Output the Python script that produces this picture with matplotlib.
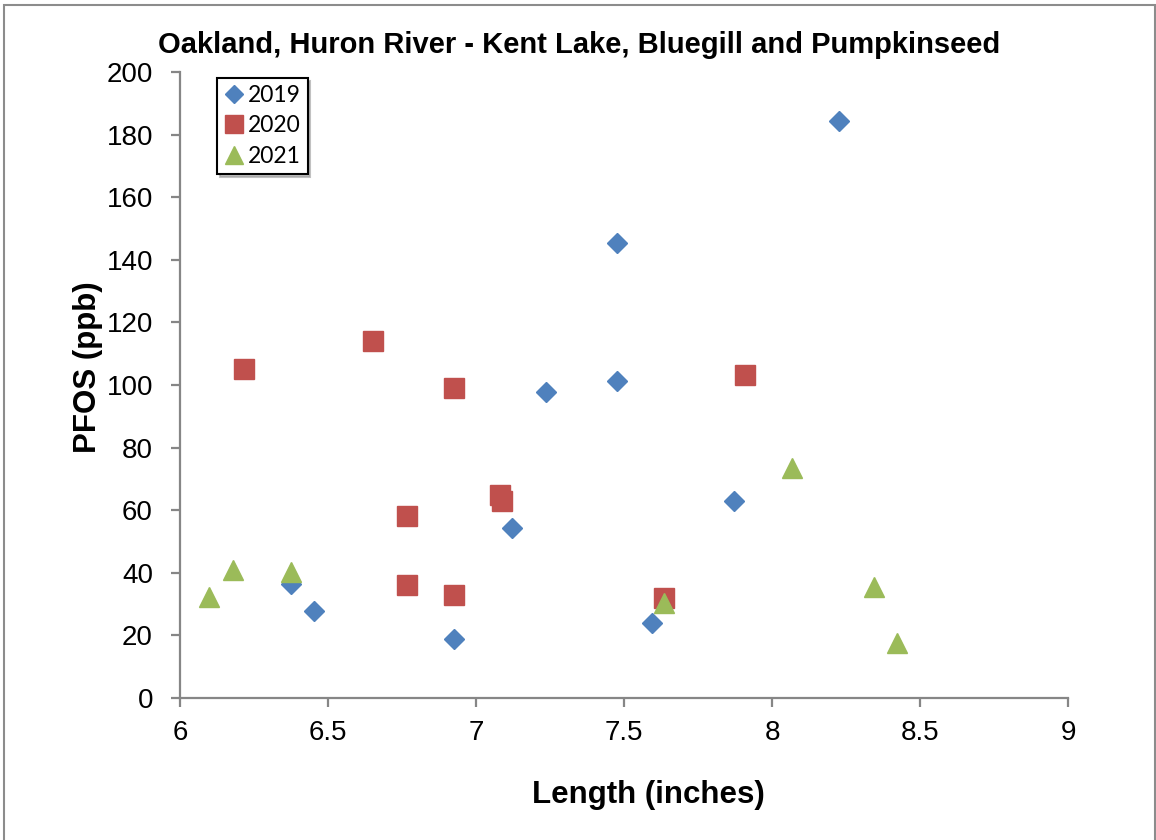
import matplotlib.pyplot as plt
from matplotlib.patches import Rectangle

# values
len_2019 = [6.375, 6.453, 6.926, 7.122, 7.236, 7.476, 7.476, 7.595, 7.872, 8.226]
pfos_2019 = [36.4, 27.8, 18.8, 54.3, 97.8, 101.3, 145.4, 24.0, 62.9, 184.3]

len_2020 = [6.216, 6.652, 6.926, 6.767, 6.767, 6.926, 7.081, 7.088, 7.635, 7.909]
pfos_2020 = [105.1, 114.1, 99.0, 58.1, 36.1, 32.9, 65.0, 63.0, 31.9, 103.2]

len_2021 = [6.098, 6.179, 6.375, 7.635, 8.068, 8.345, 8.422]
pfos_2021 = [32.3, 40.9, 40.3, 30.4, 73.5, 35.5, 17.6]

x_ticks = [6, 6.5, 7, 7.5, 8, 8.5, 9]
x_labels = ['6', '6.5', '7', '7.5', '8', '8.5', '9']
y_ticks = [0, 20, 40, 60, 80, 100, 120, 140, 160, 180, 200]

plt.rcParams['font.family'] = ['Liberation Sans', 'DejaVu Sans']

fig = plt.figure(figsize=(11.56, 8.4), dpi=100)
ax = fig.add_axes([180 / 1156, 1 - 698 / 840, 888 / 1156, 626 / 840])

ax.plot(len_2019, pfos_2019, linestyle='none', marker='D', markersize=10.2,
        color='#4F81BD', label='2019', zorder=3)
ax.plot(len_2020, pfos_2020, linestyle='none', marker='s', markersize=14.5,
        color='#C0504D', label='2020', zorder=3)
ax.plot(len_2021, pfos_2021, linestyle='none', marker='^', markersize=14.5,
        color='#9BBB59', label='2021', zorder=3)

ax.set_xlim(6, 9)
ax.set_ylim(0, 200)
ax.set_xticks(x_ticks)
ax.set_xticklabels(x_labels)
ax.set_yticks(y_ticks)

for side in ['top', 'right']:
    ax.spines[side].set_visible(False)
for side in ['left', 'bottom']:
    ax.spines[side].set_color('#868686')
    ax.spines[side].set_linewidth(1.6)

ax.tick_params(axis='both', direction='out', length=6.5, width=1.6,
               color='#868686', labelsize=20)
ax.tick_params(axis='y', pad=13)
ax.tick_params(axis='x', pad=9)

fig.text(579 / 1156, 1 - 45 / 840,
         'Oakland, Huron River - Kent Lake, Bluegill and Pumpkinseed',
         ha='center', va='center', fontsize=21, fontweight='bold')
fig.text(88 / 1156, 1 - 367 / 840, 'PFOS (ppb)', rotation=90,
         ha='center', va='center', fontsize=22.5, fontweight='bold')
fig.text(648 / 1156, 1 - 795 / 840, 'Length (inches)',
         ha='center', va='center', fontsize=22.5, fontweight='bold')

leg = ax.legend(loc='upper left', bbox_to_anchor=(217 / 1156, 1 - 78 / 840),
                bbox_transform=fig.transFigure, frameon=True, fancybox=False,
                shadow={'color': '#999999', 'alpha': 0.6}, edgecolor='black',
                prop={'family': 'Lato', 'size': 16.5}, handlelength=0.9,
                handletextpad=0.15, borderpad=0.3, labelspacing=0.42,
                borderaxespad=0, markerscale=0.85)
leg.get_frame().set_linewidth(1.5)

# outer chart border
fig.patches.append(Rectangle((4 / 1156, -0.01), 1151 / 1156, 1 - 5 / 840 + 0.01,
                             transform=fig.transFigure, fill=False,
                             edgecolor='#8c8c8c', linewidth=1.5))

fig.savefig('out.png', dpi=100)
